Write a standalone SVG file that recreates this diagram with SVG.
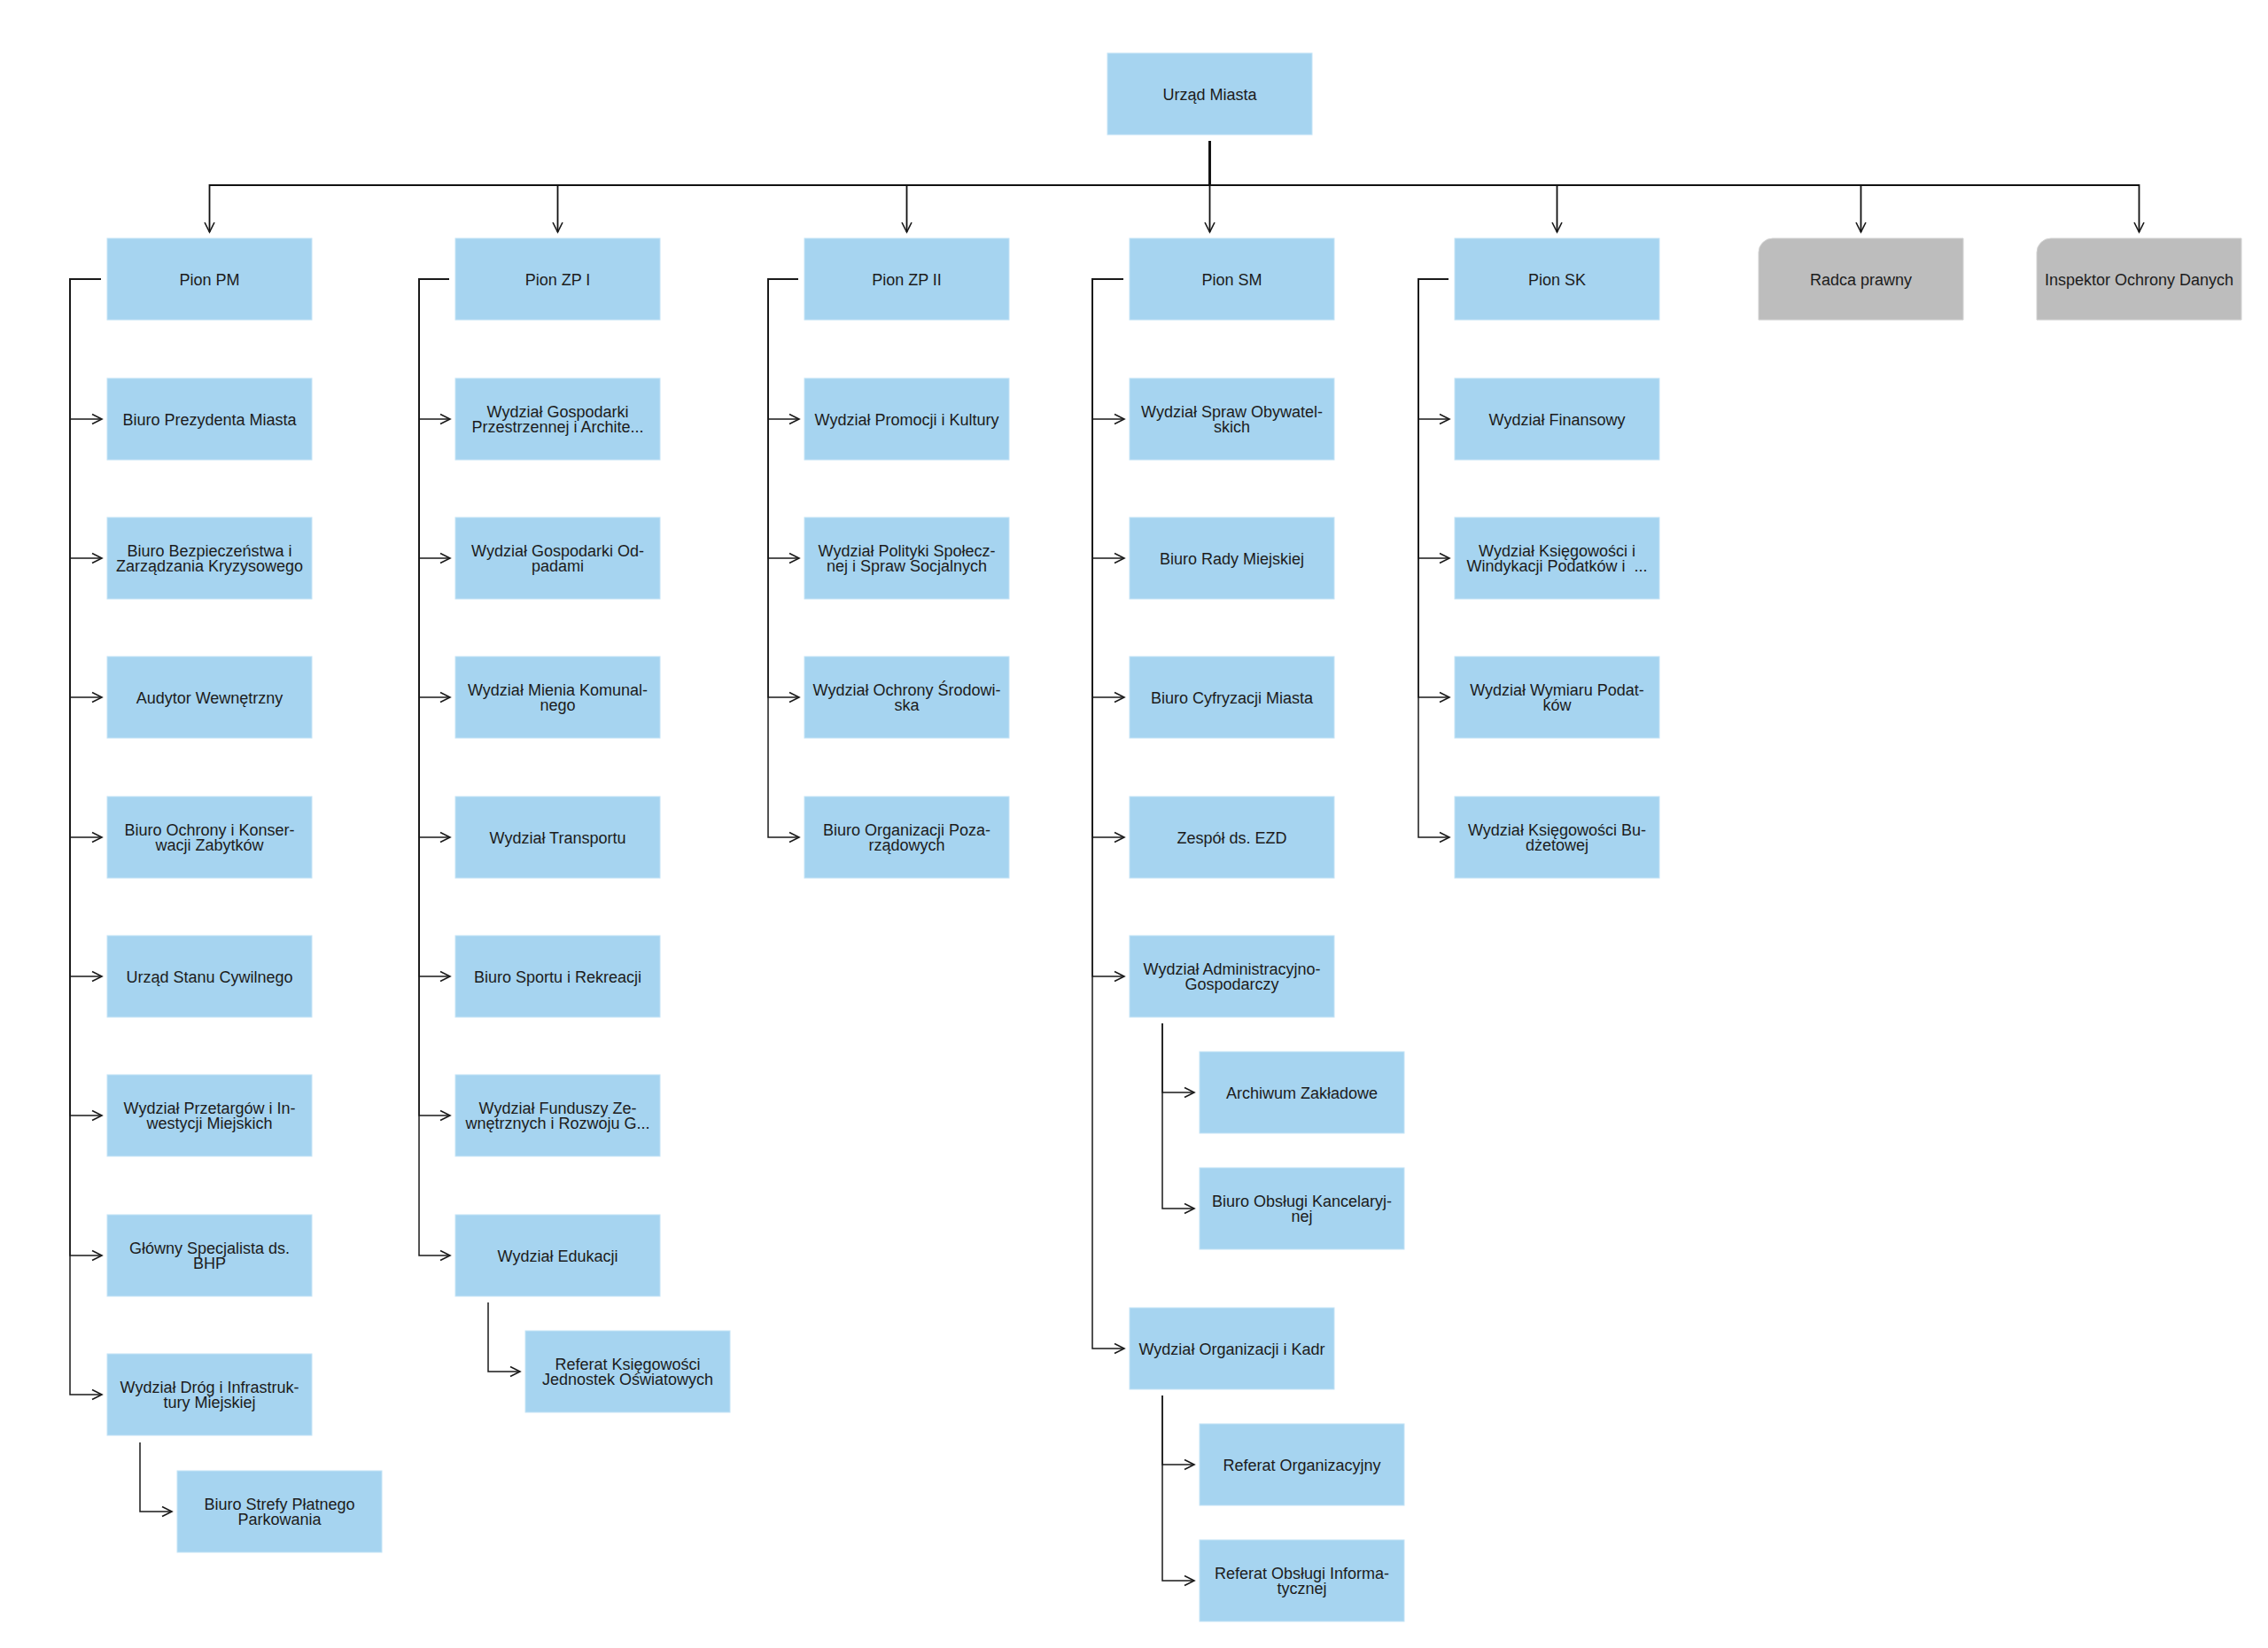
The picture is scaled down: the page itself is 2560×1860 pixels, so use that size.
<svg xmlns="http://www.w3.org/2000/svg" width="2560" height="1860" viewBox="0 0 2560 1860">
<style>
.box{fill:#a6d4f0;stroke:#c4e3f6;stroke-width:1}
.gbox{fill:#bdbdbd;stroke:#d2d2d2;stroke-width:1}
.t{font-family:"Liberation Sans",Arial,sans-serif;font-size:18px;fill:#1c1c1c;text-anchor:middle;white-space:pre}
.c{fill:none;stroke:#1a1a1a;stroke-width:1.5;marker-end:url(#arr)}
.m{fill:none;stroke:#111;stroke-width:1.8;marker-end:url(#arr)}
</style>
<defs>
<marker id="arr" markerUnits="userSpaceOnUse" markerWidth="14" markerHeight="14" refX="11" refY="5.5" orient="auto" overflow="visible">
<path d="M0,0 L11,5.5 L0,11" fill="none" stroke="#1a1a1a" stroke-width="1.6"/>
</marker>
</defs>
<rect width="2560" height="1860" fill="#ffffff"/>

<g id="connectors">
<!-- root to pions -->
<path class="m" d="M1365.5,159 V209 H236.5 V262"/>
<path class="m" d="M1365.5,159 V209 H629.5 V262"/>
<path class="m" d="M1365.5,159 V209 H1023.5 V262"/>
<path class="m" d="M1365.5,159 V209 V262"/>
<path class="m" d="M1365.5,159 V209 H1757.5 V262"/>
<path class="m" d="M1365.5,159 V209 H2100.5 V262"/>
<path class="m" d="M1365.5,159 V209 H2414.5 V262"/>
<!-- Pion PM -->
<path class="c" d="M114,315 H79 V473 H115"/>
<path class="c" d="M114,315 H79 V630 H115"/>
<path class="c" d="M114,315 H79 V787 H115"/>
<path class="c" d="M114,315 H79 V945 H115"/>
<path class="c" d="M114,315 H79 V1102 H115"/>
<path class="c" d="M114,315 H79 V1259 H115"/>
<path class="c" d="M114,315 H79 V1417 H115"/>
<path class="c" d="M114,315 H79 V1574 H115"/>
<path class="c" d="M158,1628 V1706 H194"/>
<!-- Pion ZP I -->
<path class="c" d="M507,315 H473 V473 H508"/>
<path class="c" d="M507,315 H473 V630 H508"/>
<path class="c" d="M507,315 H473 V787 H508"/>
<path class="c" d="M507,315 H473 V945 H508"/>
<path class="c" d="M507,315 H473 V1102 H508"/>
<path class="c" d="M507,315 H473 V1259 H508"/>
<path class="c" d="M507,315 H473 V1417 H508"/>
<path class="c" d="M551,1470 V1548 H587"/>
<!-- Pion ZP II -->
<path class="c" d="M901,315 H867 V473 H902"/>
<path class="c" d="M901,315 H867 V630 H902"/>
<path class="c" d="M901,315 H867 V787 H902"/>
<path class="c" d="M901,315 H867 V945 H902"/>
<!-- Pion SM -->
<path class="c" d="M1268,315 H1233 V473 H1269"/>
<path class="c" d="M1268,315 H1233 V630 H1269"/>
<path class="c" d="M1268,315 H1233 V787 H1269"/>
<path class="c" d="M1268,315 H1233 V945 H1269"/>
<path class="c" d="M1268,315 H1233 V1102 H1269"/>
<path class="c" d="M1268,315 H1233 V1522 H1269"/>
<path class="c" d="M1312,1155 V1233 H1348"/>
<path class="c" d="M1312,1155 V1364 H1348"/>
<path class="c" d="M1312,1575 V1653 H1348"/>
<path class="c" d="M1312,1575 V1784 H1348"/>
<!-- Pion SK -->
<path class="c" d="M1635,315 H1601 V473 H1636"/>
<path class="c" d="M1635,315 H1601 V630 H1636"/>
<path class="c" d="M1635,315 H1601 V787 H1636"/>
<path class="c" d="M1635,315 H1601 V945 H1636"/>
</g>

<g id="n-root"><rect class="box" x="1250" y="60" width="231" height="92"/><text class="t" x="1365.5" y="112.5">Urząd Miasta</text></g>

<g id="n-pion-pm"><rect class="box" x="121" y="269" width="231" height="92"/><text class="t" x="236.5" y="321.5">Pion PM</text></g>
<g id="n-pion-zp1"><rect class="box" x="514" y="269" width="231" height="92"/><text class="t" x="629.5" y="321.5">Pion ZP I</text></g>
<g id="n-pion-zp2"><rect class="box" x="908" y="269" width="231" height="92"/><text class="t" x="1023.5" y="321.5">Pion ZP II</text></g>
<g id="n-pion-sm"><rect class="box" x="1275" y="269" width="231" height="92"/><text class="t" x="1390.5" y="321.5">Pion SM</text></g>
<g id="n-pion-sk"><rect class="box" x="1642" y="269" width="231" height="92"/><text class="t" x="1757.5" y="321.5">Pion SK</text></g>
<g id="n-radca"><path class="gbox" d="M1985,285 A16,16 0 0 1 2001,269 H2216 V361 H1985 Z"/><text class="t" x="2100.5" y="321.5">Radca prawny</text></g>
<g id="n-iod"><path class="gbox" d="M2299,285 A16,16 0 0 1 2315,269 H2530 V361 H2299 Z"/><text class="t" x="2414.5" y="321.5">Inspektor Ochrony Danych</text></g>

<!-- PM -->
<g id="n-pm1"><rect class="box" x="121" y="427" width="231" height="92"/><text class="t" x="236.5" y="479.5">Biuro Prezydenta Miasta</text></g>
<g id="n-pm2"><rect class="box" x="121" y="584" width="231" height="92"/><text class="t"><tspan x="236.5" y="627.5">Biuro Bezpieczeństwa i</tspan><tspan x="236.5" y="645">Zarządzania Kryzysowego</tspan></text></g>
<g id="n-pm3"><rect class="box" x="121" y="741" width="231" height="92"/><text class="t" x="236.5" y="793.5">Audytor Wewnętrzny</text></g>
<g id="n-pm4"><rect class="box" x="121" y="899" width="231" height="92"/><text class="t"><tspan x="236.5" y="942.5">Biuro Ochrony i Konser-</tspan><tspan x="236.5" y="960">wacji Zabytków</tspan></text></g>
<g id="n-pm5"><rect class="box" x="121" y="1056" width="231" height="92"/><text class="t" x="236.5" y="1108.5">Urząd Stanu Cywilnego</text></g>
<g id="n-pm6"><rect class="box" x="121" y="1213" width="231" height="92"/><text class="t"><tspan x="236.5" y="1256.5">Wydział Przetargów i In-</tspan><tspan x="236.5" y="1274">westycji Miejskich</tspan></text></g>
<g id="n-pm7"><rect class="box" x="121" y="1371" width="231" height="92"/><text class="t"><tspan x="236.5" y="1414.5">Główny Specjalista ds.</tspan><tspan x="236.5" y="1432">BHP</tspan></text></g>
<g id="n-pm8"><rect class="box" x="121" y="1528" width="231" height="92"/><text class="t"><tspan x="236.5" y="1571.5">Wydział Dróg i Infrastruk-</tspan><tspan x="236.5" y="1589">tury Miejskiej</tspan></text></g>
<g id="n-pm8a"><rect class="box" x="200" y="1660" width="231" height="92"/><text class="t"><tspan x="315.5" y="1703.5">Biuro Strefy Płatnego</tspan><tspan x="315.5" y="1721">Parkowania</tspan></text></g>

<!-- ZP I -->
<g id="n-zp1-1"><rect class="box" x="514" y="427" width="231" height="92"/><text class="t"><tspan x="629.5" y="470.5">Wydział Gospodarki</tspan><tspan x="629.5" y="488">Przestrzennej i Archite...</tspan></text></g>
<g id="n-zp1-2"><rect class="box" x="514" y="584" width="231" height="92"/><text class="t"><tspan x="629.5" y="627.5">Wydział Gospodarki Od-</tspan><tspan x="629.5" y="645">padami</tspan></text></g>
<g id="n-zp1-3"><rect class="box" x="514" y="741" width="231" height="92"/><text class="t"><tspan x="629.5" y="784.5">Wydział Mienia Komunal-</tspan><tspan x="629.5" y="802">nego</tspan></text></g>
<g id="n-zp1-4"><rect class="box" x="514" y="899" width="231" height="92"/><text class="t" x="629.5" y="951.5">Wydział Transportu</text></g>
<g id="n-zp1-5"><rect class="box" x="514" y="1056" width="231" height="92"/><text class="t" x="629.5" y="1108.5">Biuro Sportu i Rekreacji</text></g>
<g id="n-zp1-6"><rect class="box" x="514" y="1213" width="231" height="92"/><text class="t"><tspan x="629.5" y="1256.5">Wydział Funduszy Ze-</tspan><tspan x="629.5" y="1274">wnętrznych i Rozwoju G...</tspan></text></g>
<g id="n-zp1-7"><rect class="box" x="514" y="1371" width="231" height="92"/><text class="t" x="629.5" y="1423.5">Wydział Edukacji</text></g>
<g id="n-zp1-7a"><rect class="box" x="593" y="1502" width="231" height="92"/><text class="t"><tspan x="708.5" y="1545.5">Referat Księgowości</tspan><tspan x="708.5" y="1563">Jednostek Oświatowych</tspan></text></g>

<!-- ZP II -->
<g id="n-zp2-1"><rect class="box" x="908" y="427" width="231" height="92"/><text class="t" x="1023.5" y="479.5">Wydział Promocji i Kultury</text></g>
<g id="n-zp2-2"><rect class="box" x="908" y="584" width="231" height="92"/><text class="t"><tspan x="1023.5" y="627.5">Wydział Polityki Społecz-</tspan><tspan x="1023.5" y="645">nej i Spraw Socjalnych</tspan></text></g>
<g id="n-zp2-3"><rect class="box" x="908" y="741" width="231" height="92"/><text class="t"><tspan x="1023.5" y="784.5">Wydział Ochrony Środowi-</tspan><tspan x="1023.5" y="802">ska</tspan></text></g>
<g id="n-zp2-4"><rect class="box" x="908" y="899" width="231" height="92"/><text class="t"><tspan x="1023.5" y="942.5">Biuro Organizacji Poza-</tspan><tspan x="1023.5" y="960">rządowych</tspan></text></g>

<!-- SM -->
<g id="n-sm1"><rect class="box" x="1275" y="427" width="231" height="92"/><text class="t"><tspan x="1390.5" y="470.5">Wydział Spraw Obywatel-</tspan><tspan x="1390.5" y="488">skich</tspan></text></g>
<g id="n-sm2"><rect class="box" x="1275" y="584" width="231" height="92"/><text class="t" x="1390.5" y="636.5">Biuro Rady Miejskiej</text></g>
<g id="n-sm3"><rect class="box" x="1275" y="741" width="231" height="92"/><text class="t" x="1390.5" y="793.5">Biuro Cyfryzacji Miasta</text></g>
<g id="n-sm4"><rect class="box" x="1275" y="899" width="231" height="92"/><text class="t" x="1390.5" y="951.5">Zespół ds. EZD</text></g>
<g id="n-sm5"><rect class="box" x="1275" y="1056" width="231" height="92"/><text class="t"><tspan x="1390.5" y="1099.5">Wydział Administracyjno-</tspan><tspan x="1390.5" y="1117">Gospodarczy</tspan></text></g>
<g id="n-sm5a"><rect class="box" x="1354" y="1187" width="231" height="92"/><text class="t" x="1469.5" y="1239.5">Archiwum Zakładowe</text></g>
<g id="n-sm5b"><rect class="box" x="1354" y="1318" width="231" height="92"/><text class="t"><tspan x="1469.5" y="1361.5">Biuro Obsługi Kancelaryj-</tspan><tspan x="1469.5" y="1379">nej</tspan></text></g>
<g id="n-sm6"><rect class="box" x="1275" y="1476" width="231" height="92"/><text class="t" x="1390.5" y="1528.5">Wydział Organizacji i Kadr</text></g>
<g id="n-sm6a"><rect class="box" x="1354" y="1607" width="231" height="92"/><text class="t" x="1469.5" y="1659.5">Referat Organizacyjny</text></g>
<g id="n-sm6b"><rect class="box" x="1354" y="1738" width="231" height="92"/><text class="t"><tspan x="1469.5" y="1781.5">Referat Obsługi Informa-</tspan><tspan x="1469.5" y="1799">tycznej</tspan></text></g>

<!-- SK -->
<g id="n-sk1"><rect class="box" x="1642" y="427" width="231" height="92"/><text class="t" x="1757.5" y="479.5">Wydział Finansowy</text></g>
<g id="n-sk2"><rect class="box" x="1642" y="584" width="231" height="92"/><text class="t"><tspan x="1757.5" y="627.5">Wydział Księgowości i</tspan><tspan x="1757.5" y="645">Windykacji Podatków i  ...</tspan></text></g>
<g id="n-sk3"><rect class="box" x="1642" y="741" width="231" height="92"/><text class="t"><tspan x="1757.5" y="784.5">Wydział Wymiaru Podat-</tspan><tspan x="1757.5" y="802">ków</tspan></text></g>
<g id="n-sk4"><rect class="box" x="1642" y="899" width="231" height="92"/><text class="t"><tspan x="1757.5" y="942.5">Wydział Księgowości Bu-</tspan><tspan x="1757.5" y="960">dżetowej</tspan></text></g>
</svg>
